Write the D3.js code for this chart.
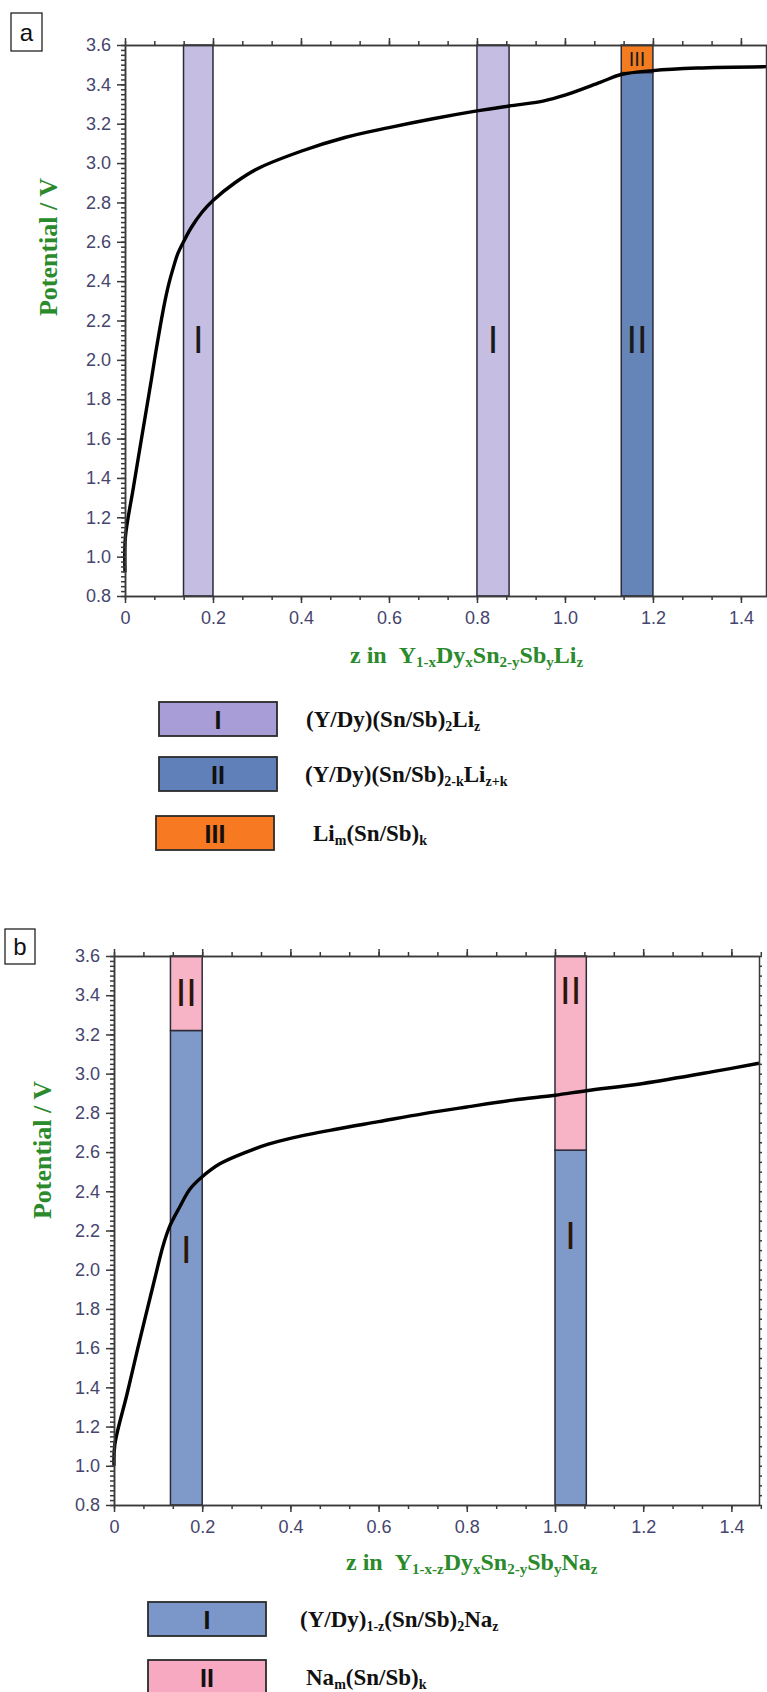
<!DOCTYPE html>
<html>
<head>
<meta charset="utf-8">
<script src="https://cdn.jsdelivr.net/npm/d3@7"></script>
<style>
  body { margin: 0; background: #fff; }
  .axis path, .axis line { stroke: #3a3a3a; stroke-width: 1.5; }
  .axis text { font-family: "Liberation Sans", Arial, sans-serif; font-size: 18px; fill: #45456e; }
</style>
</head>
<body>
<script>
// ---- panel a (Li) ----
var aCurveZ = [0, 0.001, 0.019, 0.042, 0.06, 0.07, 0.08, 0.09, 0.1, 0.11, 0.12, 0.133, 0.15, 0.175, 0.2, 0.25, 0.3, 0.4, 0.5, 0.6, 0.7, 0.8, 0.873, 0.95, 1.0, 1.08, 1.128, 1.2, 1.3, 1.46];
var aCurveV = [0.92, 1.10, 1.35, 1.66, 1.90, 2.04, 2.17, 2.29, 2.39, 2.47, 2.54, 2.60, 2.67, 2.75, 2.81, 2.90, 2.97, 3.06, 3.13, 3.18, 3.225, 3.265, 3.29, 3.315, 3.345, 3.41, 3.45, 3.47, 3.483, 3.49];

var aBandZ0 = [0.133, 0.8, 1.128, 1.128];
var aBandZ1 = [0.2, 0.873, 1.2, 1.2];
var aBandV0 = [0.8, 0.8, 0.8, 3.46];
var aBandV1 = [3.6, 3.6, 3.46, 3.6];
var aBandPhase = ["I", "I", "II", "III"];
var aBandLabelV = [2.1, 2.1, 2.1, 3.53];

// ---- panel b (Na) ----
var bCurveZ = [0, 0.002, 0.03, 0.054, 0.092, 0.111, 0.126, 0.149, 0.172, 0.198, 0.24, 0.3, 0.35, 0.4, 0.5, 0.6, 0.7, 0.8, 0.905, 1.0, 1.071, 1.2, 1.358, 1.4626];
var bCurveV = [1.0, 1.11, 1.37, 1.60, 1.95, 2.12, 2.22, 2.32, 2.41, 2.47, 2.54, 2.60, 2.64, 2.67, 2.715, 2.755, 2.795, 2.83, 2.865, 2.89, 2.913, 2.95, 3.01, 3.053];

var bBandZ0 = [0.128, 0.128, 1.0, 1.0];
var bBandZ1 = [0.2, 0.2, 1.071, 1.071];
var bBandV0 = [0.8, 3.22, 0.8, 2.61];
var bBandV1 = [3.22, 3.6, 2.61, 3.6];
var bBandPhase = ["I", "II", "I", "II"];
var bBandLabelV = [2.1, 3.41, 2.17, 3.42];

// ticks
var yMajor = d3.range(0.8, 3.61, 0.2);
var yMinor = d3.range(0.8, 3.601, 0.025);
var xMajor = [0, 0.2, 0.4, 0.6, 0.8, 1.0, 1.2, 1.4];
var xMinor = d3.range(0, 1.47, 0.2 / 3);
var rMinor = d3.range(0.8, 3.601, 0.05);

// legends: segments [text, isSub]
var aLegendPhase = ["I", "II", "III"];
var aLegendText = [
  [["(Y/Dy)(Sn/Sb)", 0], ["2", 1], ["Li", 0], ["z", 1]],
  [["(Y/Dy)(Sn/Sb)", 0], ["2-k", 1], ["Li", 0], ["z+k", 1]],
  [["Li", 0], ["m", 1], ["(Sn/Sb)", 0], ["k", 1]]
];
var bLegendPhase = ["I", "II"];
var bLegendText = [
  [["(Y/Dy)", 0], ["1-z", 1], ["(Sn/Sb)", 0], ["2", 1], ["Na", 0], ["z", 1]],
  [["Na", 0], ["m", 1], ["(Sn/Sb)", 0], ["k", 1]]
];
var aXTitle = [["z in\u00a0\u00a0Y", 0], ["1-x", 1], ["Dy", 0], ["x", 1], ["Sn", 0], ["2-y", 1], ["Sb", 0], ["y", 1], ["Li", 0], ["z", 1]];
var bXTitle = [["z in\u00a0\u00a0Y", 0], ["1-x-z", 1], ["Dy", 0], ["x", 1], ["Sn", 0], ["2-y", 1], ["Sb", 0], ["y", 1], ["Na", 0], ["z", 1]];

var svg = d3.select("body").append("svg")
  .attr("width", 767)
  .attr("height", 1692);

// writes text with subscripts
function richText(g, segs, x, y, size, subSize, fill) {
  var t = g.append("text")
    .attr("x", x).attr("y", y)
    .attr("font-family", "'Liberation Serif', 'Times New Roman', serif")
    .attr("font-weight", "bold")
    .attr("font-size", size + "px")
    .attr("fill", fill);
  var down = false;
  segs.forEach(function(s) {
    var sp = t.append("tspan").text(s[0]);
    if (s[1]) {
      sp.attr("font-size", subSize + "px");
      if (!down) { sp.attr("dy", 4); down = true; }
    } else {
      if (down) { sp.attr("dy", -4); down = false; }
    }
  });
  return t;
}

function panel(opt) {
  var x = d3.scaleLinear().domain([0, opt.zmax]).range([opt.left, opt.right]);
  var y = d3.scaleLinear().domain([0.8, 3.6]).range([opt.bottom, opt.top]);
  var g = svg.append("g");

  // bands
  opt.z0.forEach(function(z0, i) {
    g.append("rect")
      .attr("x", x(z0))
      .attr("y", y(opt.v1[i]))
      .attr("width", x(opt.z1[i]) - x(z0))
      .attr("height", y(opt.v0[i]) - y(opt.v1[i]))
      .attr("fill", opt.colors[opt.phase[i]])
      .attr("stroke", "#2b2b3a")
      .attr("stroke-width", 1.5);
  });

  // curve
  var pts = opt.cz.map(function(z, i) { return [x(z), y(opt.cv[i])]; });
  g.append("path")
    .attr("d", d3.line().curve(d3.curveCatmullRom.alpha(0.5))(pts))
    .attr("fill", "none")
    .attr("stroke", "#000")
    .attr("stroke-width", 3.4)
    .attr("stroke-linejoin", "round");

  // band labels
  opt.z0.forEach(function(z0, i) {
    var small = opt.phase[i] === "III";
    g.append("text")
      .attr("x", (x(z0) + x(opt.z1[i])) / 2)
      .attr("y", y(opt.labelV[i]))
      .attr("text-anchor", "middle")
      .attr("dominant-baseline", "central")
      .attr("font-family", "'Liberation Sans Narrow', 'Liberation Sans', sans-serif")
      .attr("font-size", small ? "20px" : "38px")
      .attr("fill", opt.labelFill)
      .text(opt.phase[i]);
  });

  // axes
  g.append("g").attr("class", "axis")
    .attr("transform", "translate(" + opt.left + ",0)")
    .call(d3.axisLeft(y).tickValues(yMinor).tickSize(4).tickSizeOuter(0).tickFormat(""));
  g.append("g").attr("class", "axis")
    .attr("transform", "translate(" + opt.left + ",0)")
    .call(d3.axisLeft(y).tickValues(yMajor).tickSize(8).tickSizeOuter(0).tickPadding(6).tickFormat(d3.format(".1f")));
  g.append("g").attr("class", "axis")
    .attr("transform", "translate(" + opt.right + ",0)")
    .call(d3.axisRight(y).tickValues(rMinor).tickSize(3).tickSizeOuter(0).tickFormat(""));

  g.append("g").attr("class", "axis")
    .attr("transform", "translate(0," + opt.bottom + ")")
    .call(d3.axisBottom(x).tickValues(xMinor).tickSize(4).tickSizeOuter(0).tickFormat(""));
  g.append("g").attr("class", "axis")
    .attr("transform", "translate(0," + opt.bottom + ")")
    .call(d3.axisBottom(x).tickValues(xMajor).tickSize(7).tickSizeOuter(0).tickPadding(8)
      .tickFormat(function(d) { return d === 0 ? "0" : d3.format(".1f")(d); }));

  g.append("g").attr("class", "axis")
    .attr("transform", "translate(0," + opt.top + ")")
    .call(d3.axisTop(x).tickValues(xMinor).tickSize(4).tickSizeOuter(0).tickFormat(""));
  g.append("g").attr("class", "axis")
    .attr("transform", "translate(0," + opt.top + ")")
    .call(d3.axisTop(x).tickValues(xMajor).tickSize(7).tickSizeOuter(0).tickFormat(""));

  // y title
  g.append("text")
    .attr("transform", "translate(" + opt.yTitleX + "," + opt.yTitleY + ") rotate(-90)")
    .attr("text-anchor", "middle")
    .attr("dominant-baseline", "central")
    .attr("font-family", "'Liberation Serif', 'Times New Roman', serif")
    .attr("font-weight", "bold")
    .attr("font-size", "26px")
    .attr("fill", "#2b8a2b")
    .text("Potential / V");

  // x title
  richText(g, opt.xTitle, opt.xTitleX, opt.xTitleY, 24, 15, "#2b8a2b");

  // panel letter
  g.append("rect")
    .attr("x", opt.boxX).attr("y", opt.boxY)
    .attr("width", opt.boxW).attr("height", opt.boxH)
    .attr("fill", "#fff").attr("stroke", "#222").attr("stroke-width", 1.3);
  g.append("text")
    .attr("x", opt.boxX + opt.boxW / 2).attr("y", opt.boxY + opt.boxH / 2)
    .attr("text-anchor", "middle").attr("dominant-baseline", "central")
    .attr("font-family", "'Liberation Sans', Arial, sans-serif")
    .attr("font-size", "24px").attr("fill", "#111")
    .text(opt.letter);

  // legend
  opt.legPhase.forEach(function(p, i) {
    var ly = opt.legY[i];
    g.append("rect")
      .attr("x", opt.legX[i]).attr("y", ly)
      .attr("width", 118).attr("height", 34)
      .attr("fill", opt.legColors[p])
      .attr("stroke", "#2b2b2b").attr("stroke-width", 1.8);
    g.append("text")
      .attr("x", opt.legX[i] + 59).attr("y", ly + 18)
      .attr("text-anchor", "middle").attr("dominant-baseline", "central")
      .attr("font-family", "'Liberation Sans', Arial, sans-serif")
      .attr("font-weight", "bold")
      .attr("font-size", "25px").attr("fill", "#111")
      .text(p);
    richText(g, opt.legText[i], opt.legTextX[i], ly + 25, 23, 14, "#111");
  });
}

panel({
  left: 125, right: 766, top: 45, bottom: 596, zmax: 1.457,
  cz: aCurveZ, cv: aCurveV,
  z0: aBandZ0, z1: aBandZ1, v0: aBandV0, v1: aBandV1, phase: aBandPhase, labelV: aBandLabelV,
  colors: { "I": "#c5bde2", "II": "#6584b8", "III": "#f47c20" },
  labelFill: "#1a1a1a",
  yTitleX: 48, yTitleY: 247,
  xTitle: aXTitle, xTitleX: 350, xTitleY: 663,
  boxX: 11, boxY: 13, boxW: 31, boxH: 38, letter: "a",
  legPhase: aLegendPhase, legText: aLegendText,
  legX: [159, 159, 156], legY: [702, 757, 816], legTextX: [306, 305, 313],
  legColors: { "I": "#a99dd8", "II": "#5f80b9", "III": "#f77a22" }
});

panel({
  left: 114, right: 759, top: 956, bottom: 1505, zmax: 1.4626,
  cz: bCurveZ, cv: bCurveV,
  z0: bBandZ0, z1: bBandZ1, v0: bBandV0, v1: bBandV1, phase: bBandPhase, labelV: bBandLabelV,
  colors: { "I": "#7f9ac8", "II": "#f7b4c7" },
  labelFill: "#2b1608",
  yTitleX: 42, yTitleY: 1150,
  xTitle: bXTitle, xTitleX: 346, xTitleY: 1570,
  boxX: 5, boxY: 929, boxW: 30, boxH: 35, letter: "b",
  legPhase: bLegendPhase, legText: bLegendText,
  legX: [148, 148], legY: [1602, 1660], legTextX: [300, 306],
  legColors: { "I": "#7b96c8", "II": "#f6a9c0" }
});
</script>
</body>
</html>
